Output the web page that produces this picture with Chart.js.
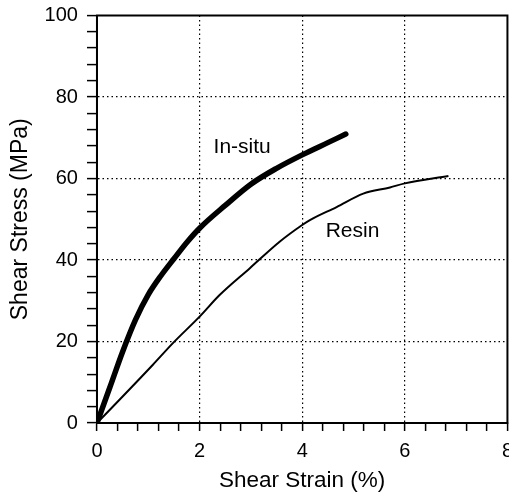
<!DOCTYPE html>
<html>
<head>
<meta charset="utf-8">
<script src="https://cdn.jsdelivr.net/npm/chart.js@4/dist/chart.umd.min.js"></script>
<style>
  html, body { margin: 0; padding: 0; background: #fff; overflow: hidden; }
  canvas { display: block; }
</style>
</head>
<body>
<canvas id="c" width="525" height="494"></canvas>
<script>
// ---- data ----
const insituStrain = [0, 0.25, 0.5, 0.75, 1.0, 1.25, 1.5, 1.75, 2.0, 2.5, 3.0, 3.5, 4.0, 4.5, 4.85];
const insituStress = [0, 8.7, 17.5, 25.3, 31.5, 36.2, 40.3, 44.3, 47.8, 53.4, 58.6, 62.5, 65.8, 68.8, 70.9];
const resinStrain  = [0, 0.5, 1.09, 1.48, 2.0, 2.39, 2.98, 3.56, 4.0, 4.15, 4.67, 5.19, 5.71, 6.0, 6.85];
const resinStress  = [0, 6.5, 14.3, 19.6, 26.1, 31.4, 38, 44.5, 48.6, 49.8, 53, 56.3, 57.8, 58.8, 60.6];
const seriesNames  = ['In-situ', 'Resin'];
const xTickLabels  = [0, 2, 4, 6, 8];
const yTickLabels  = [0, 20, 40, 60, 80, 100];
const xTitle = 'Shear Strain (%)';
const yTitle = 'Shear Stress (MPa)';
// label anchor points (data units)
const labelX = [2.83, 4.98];
const labelY = [67.8, 47.1];

const FONT = '"Liberation Sans", Arial, Helvetica, sans-serif';
const toPts = (xs, ys) => xs.map((x, i) => ({x, y: ys[i]}));
const isMajor = (v, list) => list.some(m => Math.abs(v - m) < 1e-6);

const frame = {
  id: 'frame',
  afterDatasetsDraw(chart) {
    const {ctx, chartArea: a} = chart;
    ctx.save();
    ctx.strokeStyle = '#000';
    ctx.lineWidth = 2;
    ctx.strokeRect(a.left, a.top, a.right - a.left, a.bottom - a.top);
    ctx.restore();
  }
};
const seriesLabels = {
  id: 'seriesLabels',
  afterDatasetsDraw(chart) {
    const {ctx, scales} = chart;
    ctx.save();
    ctx.fillStyle = '#000';
    ctx.font = '21px ' + FONT;
    ctx.textAlign = 'center';
    ctx.textBaseline = 'middle';
    seriesNames.forEach((n, i) => {
      ctx.fillText(n, scales.x.getPixelForValue(labelX[i]), scales.y.getPixelForValue(labelY[i]));
    });
    ctx.restore();
  }
};

new Chart(document.getElementById('c'), {
  type: 'line',
  data: {
    datasets: [
      { label: seriesNames[0], data: toPts(insituStrain, insituStress), borderColor: '#000',
        borderWidth: 5.5, pointRadius: 0, cubicInterpolationMode: 'monotone', borderCapStyle: 'round' },
      { label: seriesNames[1], data: toPts(resinStrain, resinStress), borderColor: '#000',
        borderWidth: 2, pointRadius: 0, cubicInterpolationMode: 'monotone' }
    ]
  },
  options: {
    responsive: false,
    animation: false,
    layout: { padding: 0 },
    plugins: { legend: { display: false }, tooltip: { enabled: false } },
    scales: {
      x: {
        type: 'linear', min: 0, max: 8,
        afterFit: s => { s.height = 71; },
        ticks: {
          stepSize: 0.4, autoSkip: false, maxRotation: 0, color: '#000', padding: 12,
          font: { family: FONT, size: 20, lineHeight: 0.85 },
          callback: v => isMajor(v, xTickLabels) ? String(Math.round(v)) : ''
        },
        grid: {
          color: c => (isMajor(c.tick.value, xTickLabels) && c.tick.value > 0 && c.tick.value < 8) ? '#000' : 'rgba(0,0,0,0)',
          lineWidth: 1.2, tickColor: '#000', tickLength: 8, tickWidth: 1.5
        },
        border: { display: true, color: '#000', width: 2, dash: [1.5, 3] },
        title: { display: true, text: xTitle, color: '#000', font: { family: FONT, size: 22.5 }, padding: { top: 0, bottom: 0 } }
      },
      y: {
        type: 'linear', min: 0, max: 100,
        ticks: {
          stepSize: 4, autoSkip: false, color: '#000', padding: 9,
          font: { family: FONT, size: 20, lineHeight: 0.65 },
          callback: v => isMajor(v, yTickLabels) ? String(Math.round(v)) : ''
        },
        grid: {
          color: c => (isMajor(c.tick.value, yTickLabels) && c.tick.value > 0 && c.tick.value < 100) ? '#000' : 'rgba(0,0,0,0)',
          lineWidth: 1.2, tickColor: '#000', tickLength: 10, tickWidth: 1.5
        },
        border: { display: true, color: '#000', width: 2, dash: [1.5, 3] },
        title: { display: true, text: yTitle, color: '#000', font: { family: FONT, size: 23 }, padding: { top: 7, bottom: 1 } }
      }
    }
  },
  plugins: [frame, seriesLabels]
});
</script>
</body>
</html>
